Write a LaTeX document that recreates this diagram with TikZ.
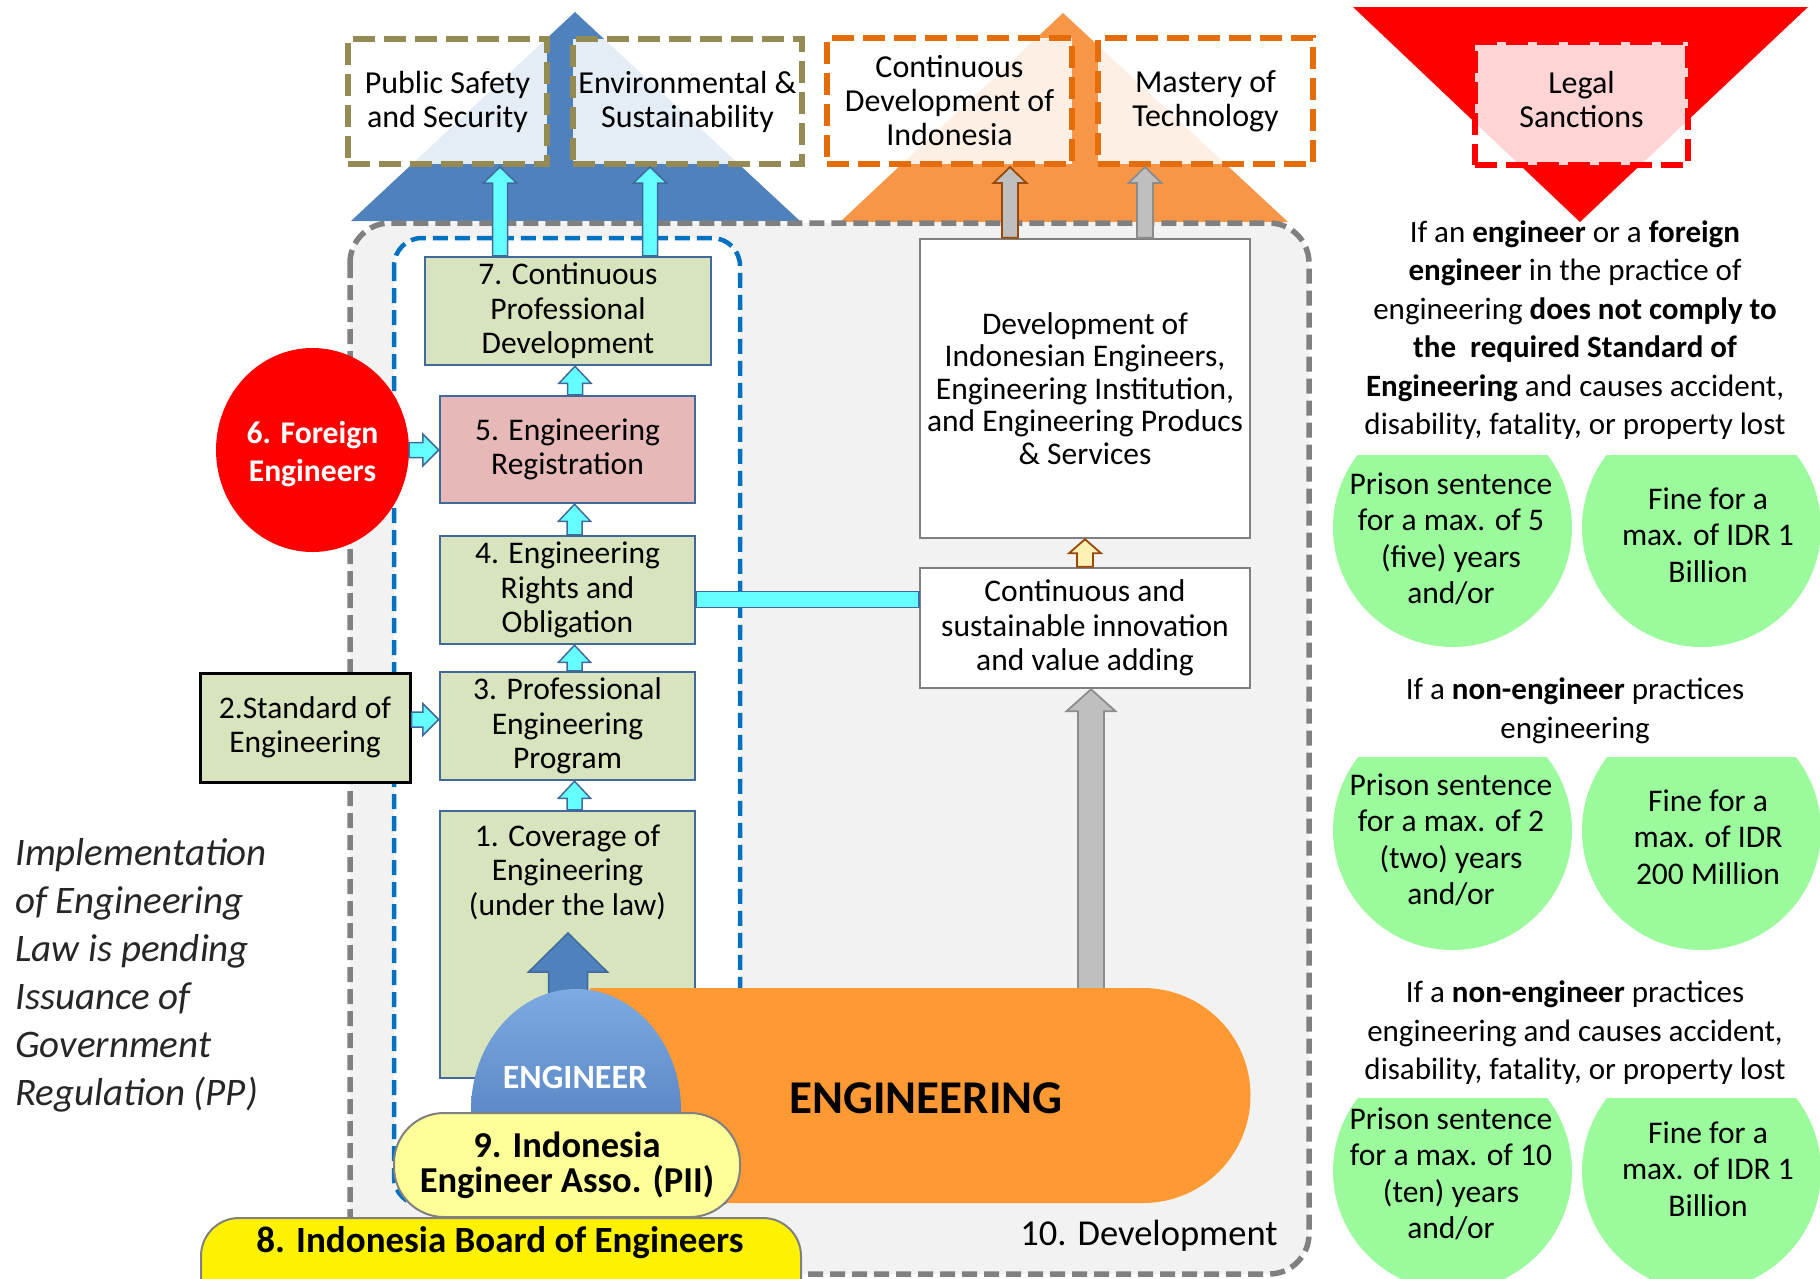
\documentclass[tikz,border=0pt]{standalone}
\usepackage{fontspec}
\setmainfont{Carlito}
\usetikzlibrary{shapes.geometric,calc}

\definecolor{triblue}{RGB}{79,129,189}
\definecolor{triorange}{RGB}{247,150,70}
\definecolor{trired}{RGB}{255,0,0}
\definecolor{olivedash}{RGB}{148,138,84}
\definecolor{orangedash}{RGB}{228,108,10}
\definecolor{graybg}{RGB}{242,242,242}
\definecolor{graydash}{RGB}{128,128,128}
\definecolor{bluedash}{RGB}{0,112,192}
\definecolor{boxgreen}{RGB}{215,228,189}
\definecolor{boxpink}{RGB}{230,185,184}
\definecolor{boxedge}{RGB}{65,105,155}
\definecolor{cyanfill}{RGB}{102,255,255}
\definecolor{engorange}{RGB}{255,153,51}
\definecolor{circgreen}{RGB}{155,250,155}
\definecolor{paleyellow}{RGB}{255,255,153}
\definecolor{arrowgray}{RGB}{191,191,191}
\definecolor{arrowgrayedge}{RGB}{140,140,140}
\definecolor{brownedge}{RGB}{152,72,7}
\definecolor{lightyellow}{RGB}{255,240,180}
\definecolor{domelight}{RGB}{125,170,225}
\definecolor{domedark}{RGB}{62,108,175}

\newcommand\fsbox{\fontsize{31.5}{34.5}\selectfont}
\newcommand\fstop{\fontsize{32}{34}\selectfont}
\newcommand\fsright{\fontsize{31}{38.5}\selectfont}
\newcommand\fscirc{\fontsize{31.5}{36.4}\selectfont}
\newcommand\fsdev{\fontsize{31.5}{32.5}\selectfont}

\newcommand\myblockup[6]{%
  \path[#1] let \p1=(#2), \p2=(#3) in
    (\x2-#4,\y1) -- (\x2-#4,\y2-#6) -- (\x2-#5,\y2-#6) -- (\x2,\y2)
    -- (\x2+#5,\y2-#6) -- (\x2+#4,\y2-#6) -- (\x2+#4,\y1) -- cycle;}
\newcommand\myblockright[6]{%
  \path[#1] let \p1=(#2), \p2=(#3) in
    (\x1,\y1+#4) -- (\x2-#6,\y1+#4) -- (\x2-#6,\y1+#5) -- (\x2,\y1)
    -- (\x2-#6,\y1-#5) -- (\x2-#6,\y1-#4) -- (\x1,\y1-#4) -- cycle;}

\tikzset{
  topbox/.style={line width=6pt, dash pattern=on 22pt off 9pt, fill=white,
    fill opacity=0.85, text opacity=1, align=center, font=\fstop, inner sep=0pt},
  greenbox/.style={draw=boxedge, line width=2.5pt, fill=boxgreen, inner sep=0pt,
    align=center, font=\fsbox},
  whitebox/.style={draw=graydash, line width=2.5pt, fill=white, inner sep=0pt, align=center},
  cyanarrow/.style={fill=cyanfill, draw=boxedge, line width=1.5pt},
  grayarrow/.style={fill=arrowgray, draw=arrowgrayedge, line width=1.8pt},
  brownarrow/.style={fill=arrowgray, draw=brownedge, line width=1.8pt},
  yelarrow/.style={fill=lightyellow, draw=brownedge, line width=1.8pt},
  bluearrow/.style={fill=triblue, draw=boxedge, line width=1.5pt},
  circtext/.style={align=center, font=\fscirc, inner sep=0pt},
  sidetext/.style={align=center, font=\fsright, inner sep=0pt},
}

\begin{document}
\begin{tikzpicture}[x=1pt,y=-1pt]
\useasboundingbox (0,0) rectangle (1820,1278);

% big triangles
\fill[triblue] (575,12) -- (800,221) -- (351,221) -- cycle;
\fill[triorange] (1063,13) -- (1288,222) -- (840,222) -- cycle;
\fill[trired] (1353,7) -- (1808,7) -- (1580,222) -- cycle;

% development area
\draw[graydash, line width=5.5pt, dash pattern=on 15pt off 7pt, fill=graybg, rounded corners=40pt]
  (350,223) rectangle (1309,1274);
\draw[bluedash, line width=4.5pt, dash pattern=on 15pt off 7pt, fill=white, rounded corners=28pt]
  (394,238) rectangle (740,1205);

% goal boxes
\node[topbox, draw=olivedash, minimum width=199pt, minimum height=125pt] (ps) at (447.5,101.5)
  {Public Safety\\and Security};
\node[topbox, draw=olivedash, minimum width=229pt, minimum height=125pt] (env) at (687.5,101.5)
  {Environmental \&\\Sustainability};
\node[topbox, draw=orangedash, minimum width=245pt, minimum height=126pt] (cdi) at (949.5,101)
  {Continuous\\Development of\\Indonesia};
\node[topbox, draw=orangedash, minimum width=215pt, minimum height=126pt] (mot) at (1205.5,101)
  {Mastery of\\Technology};
\node[topbox, draw=trired, minimum width=213pt, minimum height=123pt, fill opacity=0.83] (legal) at (1581.5,103.5)
  {};
\node[align=center, font=\fstop, inner sep=0pt] (legalt) at (1581.5,99.5) {Legal\\Sanctions};

% development boxes
\node[whitebox, font=\fsdev, minimum width=330pt, minimum height=299pt] (dev) at (1085,388.5)
  {Development of\\Indonesian Engineers,\\Engineering Institution,\\and Engineering Producs\\\& Services};
\node[whitebox, font=\fsbox, minimum width=330pt, minimum height=120pt] (sust) at (1085,628)
  {Continuous and\\sustainable innovation\\and value adding};

% engineering steps
\node[greenbox, minimum width=286pt, minimum height=108pt] (b7) at (568,311)
  {7. Continuous\\Professional\\Development};
\node[greenbox, fill=boxpink, minimum width=255pt, minimum height=107pt] (b5) at (567.5,449.5)
  {5. Engineering\\Registration};
\node[greenbox, minimum width=255pt, minimum height=108pt] (b4) at (567.5,590)
  {4. Engineering\\Rights and\\Obligation};
\node[greenbox, minimum width=255pt, minimum height=108pt] (b3) at (567.5,726)
  {3. Professional\\Engineering\\Program};
\node[greenbox, minimum width=255pt, minimum height=267pt] (b1) at (567.5,944.5) {};
\node[align=center, font=\fsbox, inner sep=0pt] (b1t) at (567.5,872)
  {1. Coverage of\\Engineering\\(under the law)};
\node[greenbox, draw=black, line width=3pt, minimum width=210pt, minimum height=109pt] (b2) at (305,727.5)
  {2.Standard of\\Engineering};
\node[ellipse, fill=trired, minimum width=193pt, minimum height=204pt, inner sep=0pt] (fe) at (312.5,450) {};
\node[align=center, text=white, inner sep=0pt,
  font=\fontsize{31.6}{38}\selectfont\bfseries] (fet) at (312.5,454) {6. Foreign\\Engineers};

% arrows between steps
\myblockup{cyanarrow}{[xshift=7pt]b1.north}{[xshift=7pt]b3.south}{7.5pt}{16pt}{17pt}
\myblockup{cyanarrow}{[xshift=7pt]b3.north}{[xshift=7pt]b4.south}{7.5pt}{16pt}{17pt}
\myblockup{cyanarrow}{[xshift=7pt]b4.north}{[xshift=7pt]b5.south}{7.5pt}{16pt}{17pt}
\myblockup{cyanarrow}{[xshift=7pt]b5.north}{[xshift=7pt]b7.south}{7.5pt}{16pt}{17pt}
\myblockright{cyanarrow}{fe.east}{b5.west}{7.5pt}{16pt}{16pt}
\myblockright{cyanarrow}{[yshift=8pt]b2.east}{b3.west}{7.5pt}{16pt}{16pt}

\coordinate (c1b) at ([xshift=-68pt]b7.north);
\coordinate (c1t) at (c1b |- ps.south);
\coordinate (c2b) at ([xshift=82pt]b7.north);
\coordinate (c2t) at (c2b |- env.south);
\myblockup{cyanarrow}{c1b}{c1t}{7.5pt}{16.5pt}{16pt}
\myblockup{cyanarrow}{c2b}{c2t}{7.5pt}{16.5pt}{16pt}

\coordinate (g1b) at ([xshift=-75pt]dev.north);
\coordinate (g1t) at (g1b |- cdi.south);
\coordinate (g2b) at ([xshift=60pt]dev.north);
\coordinate (g2t) at (g2b |- mot.south);
\myblockup{brownarrow}{g1b}{g1t}{8pt}{16.5pt}{16pt}
\myblockup{grayarrow}{g2b}{g2t}{8pt}{16.5pt}{16pt}

\myblockup{yelarrow}{sust.north}{dev.south}{8pt}{16pt}{14pt}

\path[cyanarrow] let \p1=([yshift=-9.5pt]b4.east), \p2=(sust.west) in
  (\x1,\y1+8pt) rectangle (\x2,\y1-8pt);

\coordinate (capTop) at (1091,1000);
\coordinate (bigTip) at (capTop |- sust.south);
\myblockup{grayarrow}{capTop}{bigTip}{13pt}{24.5pt}{22pt}

\coordinate (domeTop) at (568,1005);
\coordinate (blueTip) at (568,933);
\myblockup{bluearrow}{domeTop}{blueTip}{19.5pt}{39.5pt}{39pt}

% engineering capsule
\fill[engorange] (590,988) -- (1143,988) arc[start angle=90, end angle=-90, radius=107.5pt]
  -- (590,1203) -- cycle;
\node[font=\fontsize{47}{56}\selectfont\bfseries, inner sep=0pt] (eng) at (926,1098) {ENGINEERING};

\node[ellipse, minimum width=210pt, minimum height=242pt, inner sep=0pt,
  top color=domelight, bottom color=domedark] (dome) at (576,1110) {};
\node[font=\fontsize{34}{40}\selectfont\bfseries, text=white, inner sep=0pt] (engr) at (575,1077) {ENGINEER};

\node[draw=graydash, line width=2pt, fill=paleyellow, rounded corners=50pt, minimum width=346pt,
  minimum height=104pt, inner sep=0pt, align=center, font=\fontsize{36.5}{35}\selectfont\bfseries]
  (pii) at (567,1165) {9. Indonesia\\Engineer Asso. (PII)};

\node[draw=graydash, line width=2pt, fill=yellow, rounded corners=38pt, minimum width=600pt,
  minimum height=100pt, inner sep=0pt] (board) at (501,1268) {};
\node[font=\fontsize{37}{44}\selectfont\bfseries, inner sep=0pt] (boardt) at (500,1243)
  {8. Indonesia Board of Engineers};

\node[font=\fontsize{36.5}{44}\selectfont, inner sep=0pt] (devlabel) at (1149,1236) {10. Development};

% left note
\node[anchor=west, align=left, inner sep=0pt, text=black!85,
  font=\fontsize{39}{48}\selectfont\itshape] (note) at (15,975)
  {Implementation\\of Engineering\\Law is pending\\Issuance of\\Government\\Regulation (PP)};

% legal sanctions side
\node[sidetext] (s1) at (1575,330)
  {If an \textbf{engineer} or a \textbf{foreign}\\\textbf{engineer} in the practice of\\engineering \textbf{does not comply to}\\\textbf{the\ \ required Standard of}\\\textbf{Engineering} and causes accident,\\disability, fatality, or property lost};
\node[sidetext] (s2) at (1575,711)
  {If a \textbf{non-engineer} practices\\engineering};
\node[sidetext] (s3) at (1575,1033)
  {If a \textbf{non-engineer} practices\\engineering and causes accident,\\disability, fatality, or property lost};

\begin{scope}
  \clip (1320,455) rectangle (1820,700);
  \fill[circgreen] (1452.5,527.5) circle[radius=119.5pt];
  \fill[circgreen] (1701.5,527.5) circle[radius=119.5pt];
\end{scope}
\begin{scope}
  \clip (1320,757) rectangle (1820,1000);
  \fill[circgreen] (1452.5,830.5) circle[radius=119.5pt];
  \fill[circgreen] (1701.5,830.5) circle[radius=119.5pt];
\end{scope}
\begin{scope}
  \clip (1320,1098) rectangle (1820,1300);
  \fill[circgreen] (1452.5,1171) circle[radius=119.5pt];
  \fill[circgreen] (1701.5,1171) circle[radius=119.5pt];
\end{scope}

\node[circtext] (p1) at (1451,539) {Prison sentence\\for a max. of 5\\(five) years\\and/or};
\node[circtext] (f1) at (1708,535) {Fine for a\\max. of IDR 1\\Billion};
\node[circtext] (p2) at (1451,840) {Prison sentence\\for a max. of 2\\(two) years\\and/or};
\node[circtext] (f2) at (1708,837) {Fine for a\\max. of IDR\\200 Million};
\node[circtext] (p3) at (1451,1174) {Prison sentence\\for a max. of 10\\(ten) years\\and/or};
\node[circtext] (f3) at (1708,1169) {Fine for a\\max. of IDR 1\\Billion};
\end{tikzpicture}
\end{document}
